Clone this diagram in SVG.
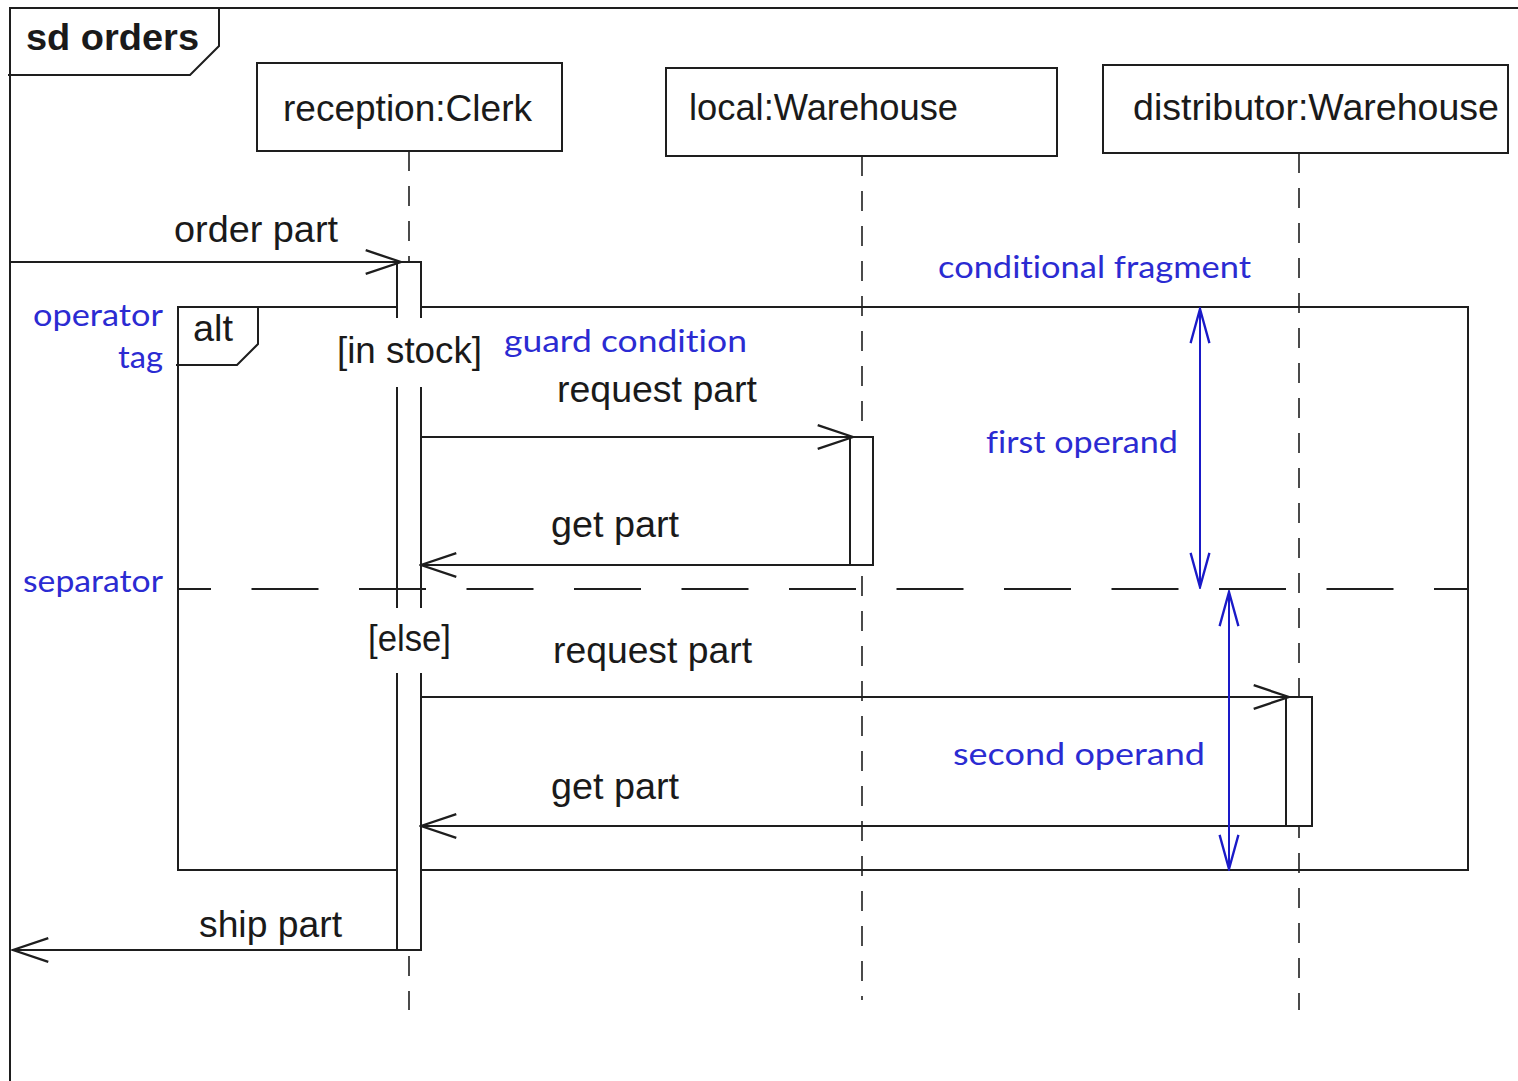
<svg xmlns="http://www.w3.org/2000/svg" width="1518" height="1081" viewBox="0 0 1518 1081">
<style>
.ln{stroke:#1e1e1e;stroke-width:2;fill:none}
.life{stroke:#1e1e1e;stroke-width:1.6;fill:none;stroke-dasharray:20 15}
.bar{stroke:#1e1e1e;stroke-width:2;fill:#fff}
.t{font-family:"Liberation Sans",Arial,sans-serif;font-size:37px;fill:#1a1a1a}
.b{font-family:"Lato","Noto Sans",sans-serif;font-size:31px;fill:#2b2bd2;font-variant-ligatures:none}
.blu{stroke:#1a1ac8;stroke-width:2;fill:none}
</style>
<defs>
<marker id="open" markerUnits="userSpaceOnUse" markerWidth="40" markerHeight="30" viewBox="-32 -12 34 24" refX="0" refY="0" orient="auto">
<path d="M-30,-10 L0,0 L-30,10" fill="none" stroke="#1e1e1e" stroke-width="2"/>
</marker>
<marker id="openb" markerUnits="userSpaceOnUse" markerWidth="40" markerHeight="30" viewBox="-32 -12 34 24" refX="0" refY="0" orient="auto-start-reverse">
<path d="M-29,-8 L0,0 L-29,8" fill="none" stroke="#1a1ac8" stroke-width="2"/>
</marker>
</defs>
<rect width="1518" height="1081" fill="#fff"/>

<g id="frame">
<path class="ln" d="M10,1081 L10,8 L1518,8"/>
<path class="ln" d="M8,75 L190,75 L219,46 L219,8"/>
<text class="t" x="26" y="50" font-weight="bold" textLength="173" lengthAdjust="spacingAndGlyphs">sd orders</text>
</g>

<g id="lifelines">
<line class="life" x1="409" y1="151" x2="409" y2="1010"/>
<line class="life" x1="862" y1="156" x2="862" y2="1000"/>
<line class="life" x1="1299" y1="153" x2="1299" y2="1010"/>
</g>

<g id="reception">
<rect class="ln" x="257" y="63" width="305" height="88"/>
<text class="t" x="283" y="121" textLength="249" lengthAdjust="spacingAndGlyphs">reception:Clerk</text>
</g>
<g id="local">
<rect class="ln" x="666" y="68" width="391" height="88"/>
<text class="t" x="689" y="120" textLength="269" lengthAdjust="spacingAndGlyphs">local:Warehouse</text>
</g>
<g id="distributor">
<rect class="ln" x="1103" y="65" width="405" height="88"/>
<text class="t" x="1133" y="120" textLength="366" lengthAdjust="spacingAndGlyphs">distributor:Warehouse</text>
</g>

<g id="alt-fragment">
<rect class="ln" x="178" y="307" width="1290" height="563"/>
<path class="ln" d="M176,365 L237,365 L258,344 L258,307"/>
<text class="t" x="193" y="341" textLength="40" lengthAdjust="spacingAndGlyphs">alt</text>
</g>

<g id="activations">
<rect class="bar" x="397" y="262" width="24" height="688"/>
<rect class="bar" x="850" y="437" width="23" height="128"/>
<rect class="bar" x="1286" y="697" width="26" height="129"/>
</g>

<g id="separator">
<line class="ln" x1="177" y1="589" x2="1468" y2="589" stroke-dasharray="67 40.5" stroke-dashoffset="33"/>
</g>

<g id="guards">
<rect x="392" y="318" width="34" height="69" fill="#fff"/>
<text class="t" x="337" y="363" textLength="145" lengthAdjust="spacingAndGlyphs">[in stock]</text>
<rect x="392" y="608" width="34" height="65" fill="#fff"/>
<text class="t" x="368" y="651" textLength="83" lengthAdjust="spacingAndGlyphs">[else]</text>
</g>

<g id="connectors">
<line class="ln" x1="10" y1="262" x2="401" y2="262" marker-end="url(#open)"/>
<line class="ln" x1="421" y1="437" x2="853" y2="437" marker-end="url(#open)"/>
<line class="ln" x1="850" y1="565" x2="421" y2="565" marker-end="url(#open)"/>
<line class="ln" x1="421" y1="697" x2="1289" y2="697" marker-end="url(#open)"/>
<line class="ln" x1="1286" y1="826" x2="421" y2="826" marker-end="url(#open)"/>
<line class="ln" x1="397" y1="950" x2="13" y2="950" marker-end="url(#open)"/>
<line class="blu" x1="1200" y1="309" x2="1200" y2="587" marker-start="url(#openb)" marker-end="url(#openb)"/>
<line class="blu" x1="1229" y1="592" x2="1229" y2="869" marker-start="url(#openb)" marker-end="url(#openb)"/>
</g>

<g id="message-labels">
<text class="t" x="174" y="242" textLength="164" lengthAdjust="spacingAndGlyphs">order part</text>
<text class="t" x="557" y="402" textLength="200" lengthAdjust="spacingAndGlyphs">request part</text>
<text class="t" x="551" y="537" textLength="128" lengthAdjust="spacingAndGlyphs">get part</text>
<text class="t" x="553" y="663" textLength="199" lengthAdjust="spacingAndGlyphs">request part</text>
<text class="t" x="551" y="799" textLength="128" lengthAdjust="spacingAndGlyphs">get part</text>
<text class="t" x="199" y="937" textLength="143" lengthAdjust="spacingAndGlyphs">ship part</text>
</g>

<g id="annotations">
<text class="b" x="938" y="278" textLength="313" lengthAdjust="spacingAndGlyphs">conditional fragment</text>
<text class="b" x="33" y="326" textLength="130" lengthAdjust="spacingAndGlyphs">operator</text>
<text class="b" x="118" y="368" textLength="45" lengthAdjust="spacingAndGlyphs">tag</text>
<text class="b" x="504" y="352" textLength="243" lengthAdjust="spacingAndGlyphs">guard condition</text>
<text class="b" x="986" y="453" textLength="192" lengthAdjust="spacingAndGlyphs">first operand</text>
<text class="b" x="23" y="592" textLength="140" lengthAdjust="spacingAndGlyphs">separator</text>
<text class="b" x="953" y="765" textLength="252" lengthAdjust="spacingAndGlyphs">second operand</text>
</g>
</svg>
